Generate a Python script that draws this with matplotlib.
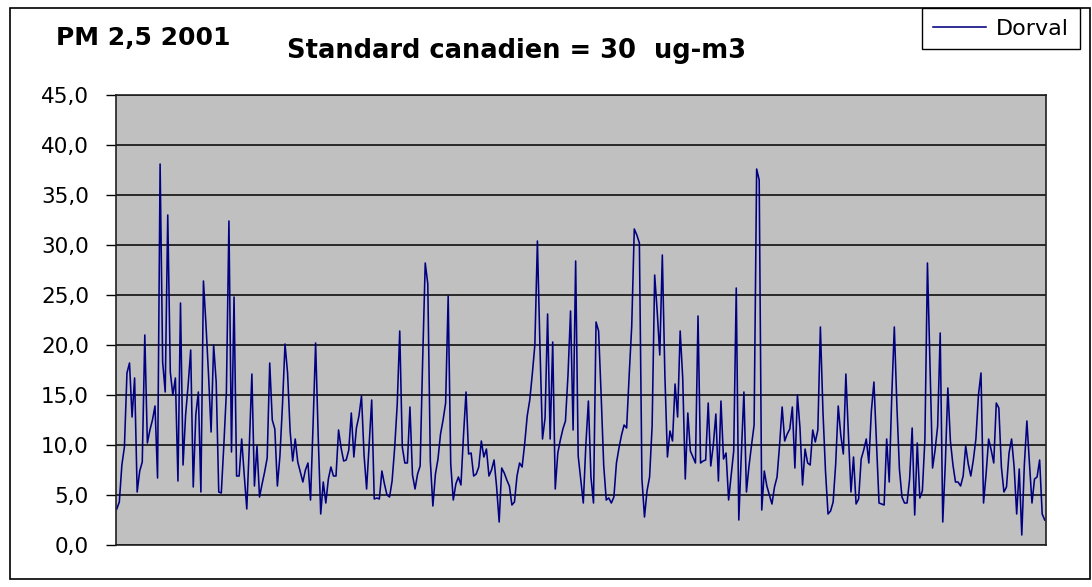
import numpy as np
import matplotlib.pyplot as plt
from matplotlib.patches import Rectangle

# PM 2,5 daily values, Dorval 2001 (one value per day)
dorval = [
    3.6, 4.3, 8.0, 9.8, 17.2, 18.2, 12.8, 16.7, 5.3, 7.4,
    8.3, 21.0, 10.2, 11.5, 12.5, 13.9, 6.7, 38.1, 18.3, 15.3,
    33.0, 17.3, 15.0, 16.7, 6.4, 24.2, 8.0, 13.0, 16.0, 19.5,
    5.8, 13.0, 15.3, 5.3, 26.4, 22.0, 17.0, 11.3, 20.0, 16.3,
    5.3, 5.2, 10.0, 15.3, 32.4,
    9.3, 24.8, 6.9, 6.9, 10.6, 7.0, 3.6, 10.0, 17.1, 5.9,
    9.9, 4.8, 6.1, 7.3, 8.7, 18.2, 12.5, 11.6, 5.9, 8.9,
    14.0, 20.1, 17.2, 11.4, 8.4, 10.6, 8.3, 7.3, 6.3, 7.5,
    8.2, 4.5, 12.0, 20.2, 11.0, 3.1, 6.3, 4.2, 6.6, 7.8,
    6.9, 6.9, 11.5, 9.7, 8.4,
    8.5, 9.5, 13.2, 8.8, 11.7, 12.9, 14.9, 9.0, 5.6, 10.0,
    14.5, 4.6, 4.7, 4.6, 7.4, 6.1, 5.0, 4.8, 6.4, 9.7,
    14.0, 21.4, 9.8, 8.2, 8.2, 13.8, 7.0, 5.6, 7.1, 7.9,
    18.6, 28.2, 26.1, 8.4, 3.9, 7.1, 8.6, 11.1, 12.5, 14.2,
    24.9, 8.1, 4.5, 6.1, 6.8,
    6.0, 10.9, 15.3, 9.1, 9.2, 6.9, 7.1, 7.8, 10.4, 8.8,
    9.6, 6.9, 7.5, 8.5, 5.8, 2.3, 7.7, 7.2, 6.5, 5.9,
    4.0, 4.3, 6.9, 8.2, 7.8, 10.1, 12.9, 14.5, 17.1, 20.0,
    30.4, 19.8, 10.6, 12.7, 23.1, 10.6, 20.3, 5.6, 9.2, 10.5,
    11.6, 12.4, 17.0, 23.4, 11.5, 28.4,
    8.9, 6.5, 4.2, 10.0, 14.4, 6.8, 4.2, 22.3, 21.4, 15.0,
    8.0, 4.5, 4.7, 4.2, 4.8, 8.2, 9.7, 11.0, 12.0, 11.7,
    17.0, 21.9, 31.6, 31.0, 30.2, 6.6, 2.8, 5.4, 6.8, 11.9,
    27.0, 23.3, 19.0, 29.0, 17.0, 8.8, 11.4, 10.4, 16.1, 12.8,
    21.4, 16.7, 6.6, 13.2,
    9.4, 8.8, 8.2, 22.9, 8.2, 8.4, 8.5, 14.2, 7.9, 10.0,
    13.1, 6.4, 14.4, 8.6, 9.2, 4.5, 7.0, 9.4, 25.7, 2.5,
    9.1, 15.3, 5.3, 7.9, 10.0, 12.0, 37.6, 36.5, 3.5, 7.4,
    5.9, 5.0, 4.1, 5.8, 6.8, 10.0, 13.8, 10.4, 11.1, 11.6,
    13.8, 7.7, 15.0, 11.7, 6.0, 9.6,
    8.2, 8.0, 11.5, 10.3, 11.5, 21.8, 13.4, 7.4, 3.1, 3.4,
    4.3, 8.1, 13.9, 11.0, 9.1, 17.1, 11.0, 5.3, 8.8, 4.1,
    4.6, 8.6, 9.5, 10.6, 8.2, 13.4, 16.3, 10.2, 4.2, 4.1,
    4.0, 10.6, 6.3, 14.9, 21.8, 14.0, 7.6, 4.8, 4.2, 4.2,
    6.6, 11.7, 3.0, 10.2,
    4.7, 5.4, 10.6, 28.2, 18.0, 7.7, 9.5, 11.9, 21.2, 2.3,
    8.1, 15.7, 10.4, 8.0, 6.3, 6.3, 5.9, 6.9, 9.9, 8.1,
    6.9, 8.5, 10.6, 15.0, 17.2, 4.2, 7.1, 10.6, 9.5, 8.2,
    14.2, 13.7, 7.8, 5.3, 5.8, 9.2, 10.6, 7.8, 3.1, 7.6,
    1.0, 8.0, 12.4, 8.2, 4.2, 6.6, 6.8, 8.5, 3.1, 2.5,
]
days = np.arange(len(dorval))
yticks = np.arange(0, 50, 5)
ytick_labels = [f"{v:.1f}".replace(".", ",") for v in yticks]

plt.rcParams['font.family'] = ['DejaVu Sans']

W, H = 1092, 587
fig = plt.figure(figsize=(W / 100, H / 100), dpi=100)
ax = fig.add_axes([116 / W, 1 - 545 / H, (1046 - 116) / W, (545 - 95) / H])

ax.plot(days, dorval, color='#000080', lw=1.15, label='Dorval')

ax.set_facecolor('#C0C0C0')
ax.set_xlim(-0.3, len(dorval) - 0.5)
ax.set_ylim(0, 45)
ax.set_yticks(yticks)
ax.set_yticklabels(ytick_labels, fontsize=15.5)
ax.set_xticks([])
ax.tick_params(axis='y', length=7, width=1, pad=12.5)
ax.grid(axis='y', color='black', lw=1.1)
ax.set_axisbelow(True)
for s in ax.spines.values():
    s.set_color('#202020')
    s.set_linewidth(1.2)

# outer chart frame
fig.patches.append(Rectangle((10 / W, 1 - 579 / H), (1090 - 10) / W, (579 - 8) / H,
                             transform=fig.transFigure, fill=False, edgecolor='black', lw=1.2))

fig.text(56 / W, 1 - 38 / H, "PM 2,5 2001", fontsize=18, fontweight='bold', va='center')
fig.text(287 / W, 1 - 51 / H, "Standard canadien = 30  ug-m3", fontsize=18.5,
         fontweight='bold', va='center')

leg = fig.legend(loc='upper right', bbox_to_anchor=(1080 / W, 1 - 8 / H), fontsize=16,
                 frameon=True, fancybox=False, edgecolor='black', framealpha=1,
                 handlelength=2.4, handletextpad=0.45, borderpad=0.48, borderaxespad=0)
leg.get_frame().set_linewidth(1.0)

fig.savefig("out.png", dpi=100, facecolor='white')
